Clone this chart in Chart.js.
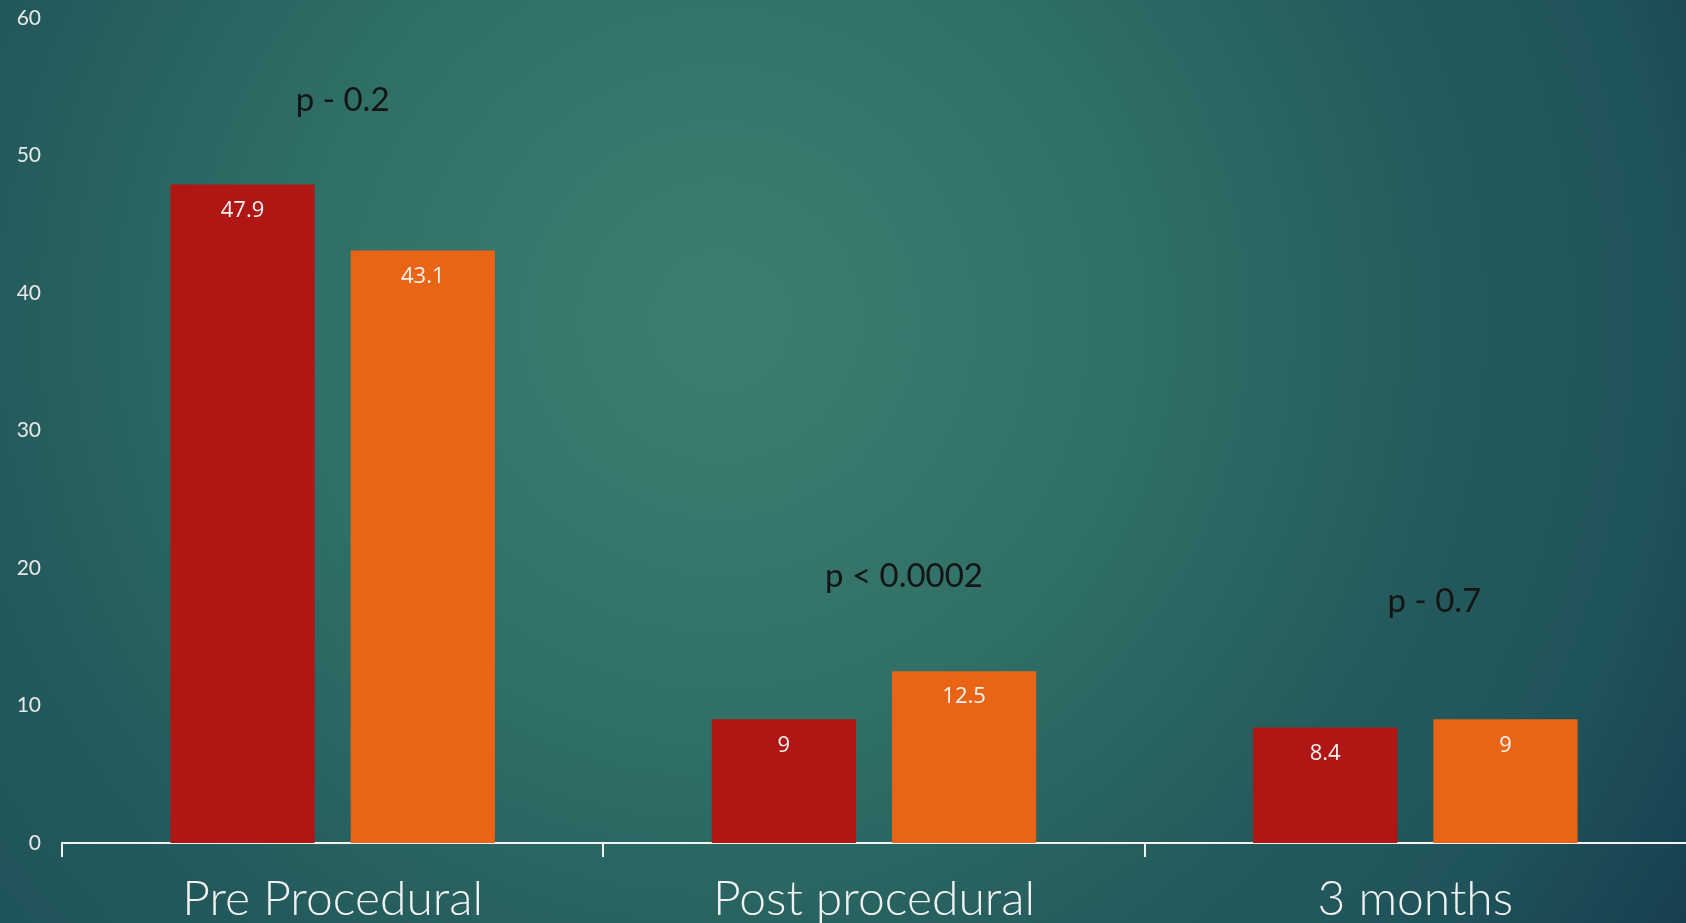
<!DOCTYPE html>
<html>
<head>
<meta charset="utf-8">
<script src="https://cdn.jsdelivr.net/npm/chart.js@4/dist/chart.umd.min.js"></script>
<style>
  html, body { margin: 0; padding: 0; background: #2a6462; overflow: hidden; }
  #wrap { width: 1686px; height: 923px; }
</style>
</head>
<body>
<div id="wrap"><canvas id="c" width="1686" height="923"></canvas></div>
<script>
// Categories, series values and p-values
const categories = ['Pre Procedural', 'Post procedural', '3 months'];
const groupA = [47.9, 9, 8.4];
const groupB = [43.1, 12.5, 9];
const pValues = ['p - 0.2', 'p < 0.0002', 'p - 0.7'];
const yTicks = [0, 10, 20, 30, 40, 50, 60];

// Teal radial backdrop
const backdrop = {
  id: 'backdrop',
  beforeDraw(chart) {
    const { ctx, width, height } = chart;
    ctx.save();
    const g = ctx.createRadialGradient(720, 320, 0, 720, 320, 1150);
    g.addColorStop(0.00, '#3e7e72');
    g.addColorStop(0.37, '#2f6f66');
    g.addColorStop(0.64, '#245a5c');
    g.addColorStop(0.82, '#1f535a');
    g.addColorStop(0.88, '#1c4b56');
    g.addColorStop(1.00, '#163e4d');
    ctx.fillStyle = g;
    ctx.fillRect(0, 0, width, height);
    ctx.restore();
  }
};

// Value labels inside the top of each bar
const barValues = {
  id: 'barValues',
  afterDatasetsDraw(chart) {
    const { ctx } = chart;
    ctx.save();
    ctx.fillStyle = '#f4f4f4';
    ctx.font = '22px "Open Sans"';
    ctx.textAlign = 'center';
    ctx.textBaseline = 'middle';
    chart.data.datasets.forEach((ds, di) => {
      chart.getDatasetMeta(di).data.forEach((bar, i) => {
        ctx.fillText(String(ds.data[i]), bar.x, bar.y + 26);
      });
    });
    ctx.restore();
  }
};

// Significance notes above each group
const pNotes = {
  id: 'pNotes',
  afterDatasetsDraw(chart, args, opts) {
    const { ctx } = chart;
    const xs = chart.scales.x, ys = chart.scales.y;
    ctx.save();
    ctx.fillStyle = '#141414';
    ctx.font = '33px Lato';
    ctx.textAlign = 'center';
    ctx.textBaseline = 'middle';
    opts.items.forEach((it, i) => {
      const x = xs.getPixelForValue(i) + it.dx;
      const y = ys.getPixelForValue(it.at);
      ctx.fillText(pValues[i], x, y);
    });
    ctx.restore();
  }
};

new Chart(document.getElementById('c'), {
  type: 'bar',
  data: {
    labels: categories,
    datasets: [
      { label: 'A', data: groupA, backgroundColor: '#b01614', borderWidth: 0 },
      { label: 'B', data: groupB, backgroundColor: '#e96414', borderWidth: 0 }
    ]
  },
  options: {
    responsive: false,
    animation: false,
    devicePixelRatio: 1,
    categoryPercentage: 0.666,
    barPercentage: 0.8,
    layout: { autoPadding: false, padding: { top: 18, right: -3, left: 0, bottom: 0 } },
    plugins: {
      legend: { display: false },
      tooltip: { enabled: false },
      pNotes: {
        items: [
          { at: 54.0, dx: 10 },
          { at: 19.4, dx: 30 },
          { at: 17.6, dx: 19 }
        ]
      }
    },
    scales: {
      x: {
        offset: true,
        grid: {
          display: true,
          drawOnChartArea: false,
          drawTicks: true,
          tickLength: 14,
          color: (c) => (c.type === 'tick' ? '#f2f2f2' : 'rgba(0,0,0,0)'),
          lineWidth: 2,
          offset: true
        },
        border: { display: true, color: '#f2f2f2', width: 2 },
        ticks: {
          color: '#f2f2f2',
          font: { family: 'Lato', size: 48, weight: '300' },
          padding: 14,
          maxRotation: 0,
          autoSkip: false
        },
        afterFit(scale) { scale.height = 80; scale.paddingLeft = 0; scale.paddingRight = 0; }
      },
      y: {
        min: 0,
        max: 60,
        afterBuildTicks(scale) { scale.ticks = yTicks.map(v => ({ value: v })); },
        grid: { display: false, drawTicks: false },
        border: { display: false },
        ticks: {
          color: '#e8e8e8',
          font: { family: 'Lato', size: 21 },
          padding: 21
        },
        afterFit(scale) { scale.width = 62; scale.paddingTop = 0; scale.paddingBottom = 0; }
      }
    }
  },
  plugins: [backdrop, barValues, pNotes]
});
</script>
</body>
</html>
